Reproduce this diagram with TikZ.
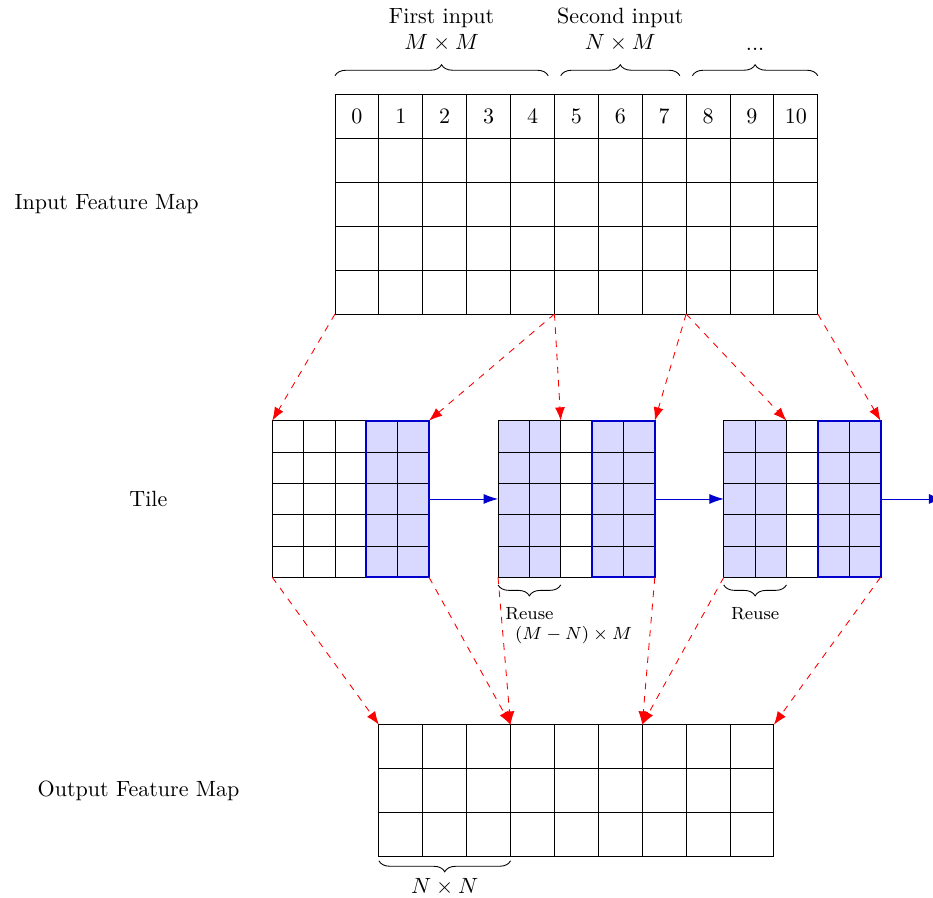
\documentclass[tikz,border=0pt]{standalone}
\usetikzlibrary{arrows.meta,decorations.pathreplacing,positioning}

\begin{document}
\begin{tikzpicture}[>={Latex[length=6pt,width=4.5pt]},
  mapbox/.style={draw,inner sep=0pt,outer sep=0pt,anchor=south west},
  tilebox/.style={draw,inner sep=0pt,outer sep=0pt,minimum size=2.5cm,anchor=north west},
  window/.style={draw=blue!80!black,line width=0.9pt},
  reused/.style={fill=blue!15},
  feed/.style={->,red,dashed},
  pass/.style={-{Latex[length=6.5pt,width=4.5pt]},blue!80!black},
  brace/.style={decorate,decoration={brace,amplitude=5pt}},
  mbrace/.style={decorate,decoration={brace,mirror,amplitude=5pt}}]
\useasboundingbox (-5.343,-9.30) rectangle (9.537,5.008);

% input feature map
\node[mapbox,minimum width=7.7cm,minimum height=3.5cm] (inmap) at (0,0) {};
\draw[step=0.7] (0,0) grid (7.7,3.5);
\foreach \i in {0,...,10}
  \node (n\i) at (0.35+0.7*\i,3.15) {\i};
\draw[brace] (0,3.8) -- (3.4,3.8) node[midway,above=7.5pt,align=center] (first) {First input\\$M\times M$};
\draw[brace] (3.6,3.8) -- (5.5,3.8) node[midway,above=7.5pt,align=center] (second) {Second input\\$N\times M$};
\draw[brace] (5.7,3.8) -- (7.7,3.8) node[midway,above=8pt] (more) {...};
\node[left=2.05cm of inmap] (inlabel) {Input Feature Map};

% tiles
\node[tilebox] (tile1) at (-1,-1.7) {};
\node[tilebox] (tile2) at (2.6,-1.7) {};
\node[tilebox] (tile3) at (6.2,-1.7) {};
\fill[reused] (tile1.north east) rectangle ++(-1,-2.5);
\fill[reused] (tile2.north west) rectangle ++(1,-2.5);
\fill[reused] (tile2.north east) rectangle ++(-1,-2.5);
\fill[reused] (tile3.north west) rectangle ++(1,-2.5);
\fill[reused] (tile3.north east) rectangle ++(-1,-2.5);
\foreach \t in {1,2,3}{
  \begin{scope}[shift={(tile\t.south west)}]
    \draw[step=0.5] (0,0) grid (2.5,2.5);
  \end{scope}
  \draw[window] (tile\t.north east) rectangle ++(-1,-2.5);
}
\node[left=1.55cm of tile1] (tilelabel) {Tile};

\coordinate (exit) at (9.7,-2.95);
\draw[pass] (tile1.east) -- (tile2.west);
\draw[pass] (tile2.east) -- (tile3.west);
\draw[pass] (tile3.east) -- (exit);

\draw[mbrace] (2.6,-4.32) -- (3.6,-4.32) node[midway,below=6.5pt,font=\footnotesize] (reuse1) {Reuse};
\node[font=\footnotesize,anchor=base west] (reusesize) at ([xshift=4.5pt,yshift=-9.5pt]reuse1.base west) {$(M-N)\times M$};
\draw[mbrace] (6.2,-4.32) -- (7.2,-4.32) node[midway,below=6.5pt,font=\footnotesize] (reuse2) {Reuse};

% output feature map
\node[mapbox,minimum width=6.3cm,minimum height=2.1cm] (outmap) at (0.7,-8.65) {};
\begin{scope}[shift={(outmap.south west)}]
  \draw[step=0.7] (0,0) grid (6.3,2.1);
\end{scope}
\draw[mbrace] (0.7,-8.72) -- (2.8,-8.72) node[midway,below=4.5pt] (nn) {$N\times N$};
\node[left=2.1cm of outmap] (outlabel) {Output Feature Map};

% connections
\coordinate (in5) at (3.5,0);
\coordinate (in8) at (5.6,0);
\coordinate (t2mid) at (3.6,-1.7);
\coordinate (t3mid) at (7.2,-1.7);
\coordinate (out3) at (2.8,-6.55);
\coordinate (out6) at (4.9,-6.55);
\draw[feed] (inmap.south west) -- (tile1.north west);
\draw[feed] (in5) -- (tile1.north east);
\draw[feed] (in5) -- (t2mid);
\draw[feed] (in8) -- (tile2.north east);
\draw[feed] (in8) -- (t3mid);
\draw[feed] (inmap.south east) -- (tile3.north east);
\draw[feed] (tile1.south west) -- (outmap.north west);
\draw[feed] (tile1.south east) -- (out3);
\draw[feed] (tile2.south west) -- (out3);
\draw[feed] (tile2.south east) -- (out6);
\draw[feed] (tile3.south west) -- (out6);
\draw[feed] (tile3.south east) -- (outmap.north east);
\end{tikzpicture}
\end{document}
